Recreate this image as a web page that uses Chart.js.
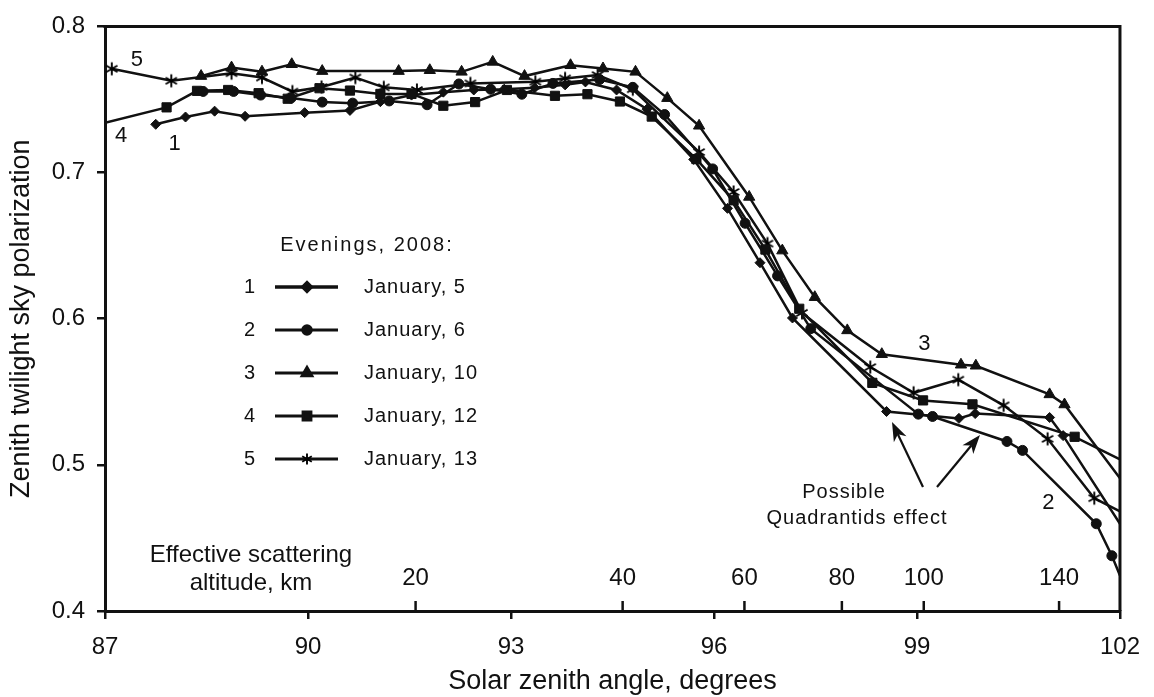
<!DOCTYPE html>
<html>
<head>
<meta charset="utf-8">
<script src="https://cdn.jsdelivr.net/npm/chart.js@4.4.1/dist/chart.umd.min.js"></script>
<style>
  html, body { margin: 0; padding: 0; background: #fff; }
  #wrap { width: 1154px; height: 697px; position: relative; }
</style>
</head>
<body>
<div id="wrap"><canvas id="myChart"></canvas></div>
<script>
'use strict'

// solar zenith angle (deg) and zenith sky polarization, one pair per evening
const jan5Angle = [87.75, 88.19, 88.62, 89.07, 89.95, 90.62, 91.07, 91.53, 92.0, 92.45, 92.9, 93.35, 93.8, 94.1, 94.56, 95.01, 95.7, 96.2, 96.68, 97.16, 98.55, 99.62, 99.86, 100.96, 101.16, 102];
const jan5Pol = [0.733, 0.738, 0.742, 0.7385, 0.741, 0.7425, 0.7485, 0.753, 0.755, 0.7565, 0.757, 0.758, 0.760, 0.762, 0.7565, 0.7434, 0.709, 0.6755, 0.6383, 0.6005, 0.5365, 0.5318, 0.5351, 0.5324, 0.520, 0.4597];

const jan6Angle = [88.45, 88.9, 89.3, 89.75, 90.21, 90.66, 91.2, 91.76, 92.23, 92.7, 93.16, 93.62, 94.31, 94.8, 95.27, 95.98, 96.46, 96.94, 97.43, 99.02, 99.23, 100.33, 100.56, 101.65, 101.88, 102];
const jan6Pol = [0.7555, 0.7555, 0.753, 0.751, 0.7482, 0.7475, 0.749, 0.7464, 0.7606, 0.757, 0.7536, 0.761, 0.7637, 0.7583, 0.7397, 0.7025, 0.6653, 0.6293, 0.5932, 0.5347, 0.5331, 0.516, 0.5099, 0.4597, 0.4378, 0.4243];

const jan10Angle = [88.42, 88.87, 89.32, 89.76, 90.21, 91.34, 91.8, 92.27, 92.73, 93.2, 93.88, 94.36, 94.84, 95.31, 95.78, 96.52, 97.01, 97.49, 97.97, 98.48, 99.65, 99.87, 100.96, 101.18, 102];
const jan10Pol = [0.766, 0.7718, 0.769, 0.7741, 0.7694, 0.7694, 0.770, 0.7689, 0.7757, 0.766, 0.7734, 0.7712, 0.7689, 0.7509, 0.732, 0.6833, 0.6466, 0.6147, 0.592, 0.5757, 0.5685, 0.5678, 0.5482, 0.5413, 0.4908];

const jan12Angle = [87, 87.91, 88.36, 88.82, 89.27, 89.7, 90.17, 90.62, 91.07, 91.53, 92.0, 92.47, 92.94, 93.65, 94.13, 94.61, 95.08, 95.74, 96.29, 96.76, 97.26, 98.34, 99.09, 99.82, 101.33, 102];
const jan12Pol = [0.734, 0.7446, 0.7559, 0.7565, 0.7543, 0.7505, 0.7577, 0.7561, 0.7538, 0.7538, 0.7457, 0.7482, 0.7565, 0.7525, 0.7536, 0.7486, 0.7383, 0.7092, 0.681, 0.6473, 0.6068, 0.5561, 0.5441, 0.5414, 0.5192, 0.5038];

const jan13Angle = [87.1, 87.98, 88.87, 89.32, 89.77, 90.2, 90.7, 91.12, 91.61, 92.4, 93.36, 93.8, 94.28, 94.8, 95.78, 96.29, 96.79, 97.3, 98.31, 98.95, 99.61, 100.28, 100.93, 101.62, 102];
const jan13Pol = [0.771, 0.7628, 0.768, 0.765, 0.7554, 0.7585, 0.765, 0.7583, 0.7565, 0.761, 0.7622, 0.7644, 0.7667, 0.757, 0.714, 0.6867, 0.6514, 0.604, 0.5669, 0.5493, 0.5583, 0.5407, 0.5178, 0.4772, 0.4682];

const seriesNums = ['1', '2', '3', '4', '5'];
const seriesNames = ['January, 5', 'January, 6', 'January, 10', 'January, 12', 'January, 13'];
const markerSize = [5, 5, 6.5, 6.5, 6];

// effective scattering altitude marks along the angle axis
const altKm = ['20', '40', '60', '80', '100', '140'];
const altAngle = [91.59, 94.65, 96.45, 97.89, 99.1, 101.1];

// curve numbers written next to the lines
const noteText = ['5', '4', '1', '3', '2'];
const noteAngle = [87.47, 87.24, 88.03, 99.11, 100.94];
const notePol = [0.777, 0.725, 0.7196, 0.583, 0.4736];

const xMin = 87;
const xMax = 102;
const ink = '#111';
const fontFam = "'Liberation Sans', Arial, sans-serif";

Chart.defaults.font.family = fontFam;
Chart.defaults.color = ink;

// six-armed asterisk like the original marker
function makeAsterisk(r, lw) {
    let s = Math.ceil(r * 2 + lw * 2);
    if (s % 2) s++;
    let c = document.createElement('canvas');
    c.width = s;
    c.height = s;
    let g = c.getContext('2d');
    g.strokeStyle = '#000';
    g.lineWidth = lw;
    for (let k = 0; k < 3; k++) {
        let ang = Math.PI / 2 + k * Math.PI / 3;
        g.beginPath();
        g.moveTo(s / 2 + Math.cos(ang) * r, s / 2 + Math.sin(ang) * r);
        g.lineTo(s / 2 - Math.cos(ang) * r, s / 2 - Math.sin(ang) * r);
        g.stroke();
    }
    return c;
}

const asterisk = makeAsterisk(6.5, 1.9);
const asteriskSmall = makeAsterisk(5.5, 1.9);
const markers = ['rectRot', 'circle', 'triangle', 'rect', asterisk];
const legendMarkers = ['rectRot', 'circle', 'triangle', 'rect', asteriskSmall];

function pairs(xs, ys) {
    let out = [];
    for (let i = 0; i < xs.length; i++) {
        out.push({ x: xs[i], y: ys[i] });
    }
    return out;
}

let allAngles = [jan5Angle, jan6Angle, jan10Angle, jan12Angle, jan13Angle];
let allPol = [jan5Pol, jan6Pol, jan10Pol, jan12Pol, jan13Pol];

let datasets = [];
for (let i = 0; i < allAngles.length; i++) {
    let r = markerSize[i];
    datasets.push({
        label: seriesNames[i],
        data: pairs(allAngles[i], allPol[i]),
        borderColor: ink,
        backgroundColor: ink,
        borderWidth: 2.5,
        tension: 0,
        pointStyle: markers[i],
        pointBorderColor: ink,
        pointBackgroundColor: ink,
        pointBorderWidth: 1,
        // lines run on past the frame: no marker where they meet it
        pointRadius: function (c) {
            if (!c.raw) return r;
            return (c.raw.x <= xMin || c.raw.x >= xMax) ? 0 : r;
        }
    });
}

function drawArrow(ctx, x0, y0, x1, y1) {
    let ang = Math.atan2(y1 - y0, x1 - x0);
    let hl = 19, hw = 7;
    let cs = Math.cos(ang), sn = Math.sin(ang);
    ctx.beginPath();
    ctx.moveTo(x0, y0);
    ctx.lineTo(x1 - cs * hl * 0.7, y1 - sn * hl * 0.7);
    ctx.stroke();
    ctx.beginPath();
    ctx.moveTo(x1, y1);
    ctx.lineTo(x1 - cs * hl - sn * hw, y1 - sn * hl + cs * hw);
    ctx.lineTo(x1 - cs * hl * 0.72, y1 - sn * hl * 0.72);
    ctx.lineTo(x1 - cs * hl + sn * hw, y1 - sn * hl - cs * hw);
    ctx.closePath();
    ctx.fill();
}

const extras = {
    id: 'extras',
    afterDraw(chart) {
        const ctx = chart.ctx;
        const a = chart.chartArea;
        const x = chart.scales.x;
        const y = chart.scales.y;
        ctx.save();
        ctx.strokeStyle = ink;
        ctx.fillStyle = ink;

        // top and right sides of the frame
        ctx.lineWidth = 3;
        ctx.beginPath();
        ctx.moveTo(a.left - 1.5, a.top);
        ctx.lineTo(a.right, a.top);
        ctx.lineTo(a.right, a.bottom);
        ctx.stroke();

        // altitude scale: inward ticks with labels
        ctx.lineWidth = 2.5;
        ctx.font = '24px ' + fontFam;
        ctx.textAlign = 'center';
        ctx.textBaseline = 'middle';
        for (let i = 0; i < altKm.length; i++) {
            let px = x.getPixelForValue(altAngle[i]);
            ctx.beginPath();
            ctx.moveTo(px, a.bottom);
            ctx.lineTo(px, a.bottom - 10);
            ctx.stroke();
            ctx.fillText(altKm[i], px, a.bottom - 33);
        }
        ctx.fillText('Effective scattering', 251, 555);
        ctx.fillText('altitude, km', 251, 583);

        // curve numbers
        ctx.font = '22px ' + fontFam;
        for (let i = 0; i < noteText.length; i++) {
            ctx.fillText(noteText[i], x.getPixelForValue(noteAngle[i]), y.getPixelForValue(notePol[i]));
        }

        // legend block
        ctx.font = '20px ' + fontFam;
        ctx.letterSpacing = '2px';
        ctx.fillText('Evenings, 2008:', 367, 245);
        ctx.letterSpacing = '1px';
        for (let i = 0; i < datasets.length; i++) {
            let ry = 287 + i * 43;
            ctx.textAlign = 'center';
            ctx.fillText(seriesNums[i], 250, ry);
            ctx.lineWidth = i === 0 ? 3.5 : 3;
            ctx.beginPath();
            ctx.moveTo(275, ry);
            ctx.lineTo(338, ry);
            ctx.stroke();
            Chart.helpers.drawPoint(ctx, {
                pointStyle: legendMarkers[i],
                radius: markerSize[i] * 0.85,
                rotation: 0,
                borderWidth: 1
            }, 307, ry);
            ctx.textAlign = 'left';
            ctx.fillText(seriesNames[i], 364, ry);
        }

        // Quadrantids note
        ctx.textAlign = 'center';
        ctx.fillText('Possible', 844, 492);
        ctx.fillText('Quadrantids effect', 857, 518);
        ctx.letterSpacing = '0px';
        ctx.lineWidth = 2.2;
        drawArrow(ctx, 923, 487, 892, 422);
        drawArrow(ctx, 937, 487, 980, 435);

        ctx.restore();
    }
};

var ctx = document.getElementById('myChart');
var polChart = new Chart(ctx, {
    type: 'line',
    data: { datasets: datasets },
    options: {
        responsive: true,
        maintainAspectRatio: false,
        animation: false,
        events: [],
        layout: { padding: { top: 19, right: 30, bottom: 0, left: 0 } },
        plugins: {
            legend: { display: false },
            tooltip: { enabled: false }
        },
        scales: {
            x: {
                type: 'linear',
                min: xMin,
                max: xMax,
                ticks: { stepSize: 3, font: { size: 24 }, padding: 14, color: ink },
                grid: { display: true, drawOnChartArea: false, drawTicks: true, tickLength: 8, color: ink, lineWidth: 2.5 },
                border: { display: true, color: ink, width: 3 },
                title: {
                    display: true,
                    text: 'Solar zenith angle, degrees',
                    font: { size: 27, lineHeight: 1 },
                    padding: { top: 0, bottom: 2 },
                    color: ink
                },
                afterFit: function (s) { s.height = 86; }
            },
            y: {
                min: 0.4,
                max: 0.8,
                ticks: {
                    stepSize: 0.1,
                    font: { size: 24 },
                    padding: 12,
                    color: ink,
                    callback: function (v) { return v.toFixed(1); }
                },
                grid: { display: true, drawOnChartArea: false, drawTicks: true, tickLength: 8, color: ink, lineWidth: 2.5 },
                border: { display: true, color: ink, width: 3 },
                title: {
                    display: true,
                    text: 'Zenith twilight sky polarization',
                    font: { size: 27, lineHeight: 1 },
                    padding: { top: 8, bottom: 0 },
                    color: ink
                },
                afterFit: function (s) { s.width = 105; }
            }
        }
    },
    plugins: [extras]
});
</script>
</body>
</html>
